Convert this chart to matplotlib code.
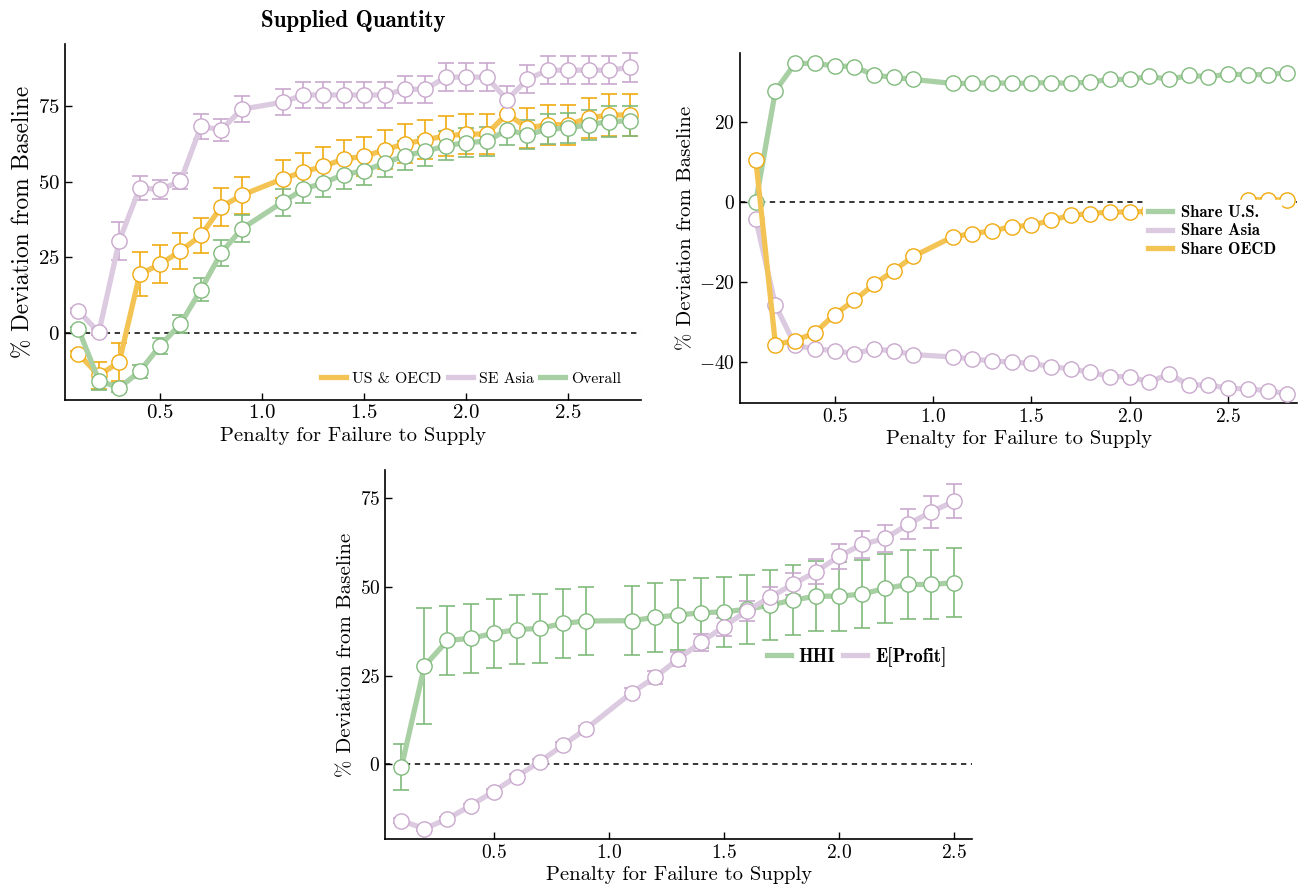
import matplotlib
matplotlib.use("Agg")
import matplotlib.pyplot as plt
import numpy as np

plt.rcParams['font.family'] = ['cmr10', 'DejaVu Serif']
plt.rcParams['mathtext.fontset'] = 'cm'
plt.rcParams['axes.formatter.use_mathtext'] = True
plt.rcParams['axes.unicode_minus'] = True

# ---------------- data ----------------
x_top = [0.1, 0.2, 0.3, 0.4, 0.5, 0.6, 0.7, 0.8, 0.9,
         1.1, 1.2, 1.3, 1.4, 1.5, 1.6, 1.7, 1.8, 1.9, 2.0,
         2.1, 2.2, 2.3, 2.4, 2.5, 2.6, 2.7, 2.8]

# Panel 1: Supplied Quantity
us_oecd = [-6.9, -14.0, -9.6, 19.4, 22.7, 27.1, 32.2, 41.7, 45.5,
           50.9, 53.2, 55.0, 57.5, 58.3, 60.5, 62.5, 63.8, 65.1, 65.7,
           65.7, 72.4, 67.7, 68.8, 68.8, 71.0, 72.0, 72.0]
us_oecd_err = [1.0, 4.4, 6.4, 7.2, 6.3, 6.0, 5.8, 6.3, 6.1,
               6.2, 6.2, 6.3, 6.3, 6.3, 6.4, 6.4, 6.4, 6.5, 6.5,
               6.5, 6.6, 6.6, 6.6, 6.6, 6.7, 6.8, 6.9]
se_asia = [7.3, 0.2, 30.4, 47.9, 47.4, 50.1, 68.2, 67.1, 73.9,
           76.2, 78.6, 78.6, 78.6, 78.6, 78.6, 80.5, 80.5, 84.5, 84.5,
           84.5, 77.0, 83.8, 86.8, 86.8, 86.8, 86.8, 87.7]
se_asia_err = [0.8, 1.0, 6.4, 4.1, 3.0, 2.7, 4.2, 3.7, 4.3,
               4.3, 4.2, 4.3, 4.3, 4.4, 4.4, 4.4, 4.5, 4.5, 4.5,
               4.5, 4.5, 4.6, 4.6, 4.6, 4.7, 4.7, 4.8]
overall = [1.3, -15.7, -18.1, -12.7, -4.2, 3.0, 14.3, 26.5, 34.4,
           43.2, 47.4, 49.6, 52.3, 53.6, 56.1, 58.6, 60.0, 61.8, 62.9,
           63.3, 67.1, 65.5, 67.3, 67.7, 68.8, 69.8, 70.1]
overall_err = [0.8, 3.2, 1.5, 2.0, 2.7, 3.1, 3.8, 4.3, 4.5,
               4.5, 4.6, 4.6, 4.6, 4.7, 4.7, 4.7, 4.8, 4.8, 4.8,
               4.8, 4.9, 4.9, 4.9, 4.9, 5.0, 5.0, 5.0]

# Panel 2: Shares
share_us = [0.0, 27.8, 34.6, 34.6, 34.0, 33.8, 31.7, 31.1, 30.6,
            29.6, 29.6, 29.8, 29.6, 29.7, 29.8, 29.6, 30.0, 30.6, 30.6,
            31.4, 30.6, 31.6, 31.3, 31.9, 31.8, 31.8, 32.3]
share_asia = [-4.3, -25.8, -35.8, -36.7, -37.1, -37.9, -36.7, -37.2, -38.1,
              -38.7, -39.2, -39.7, -40.0, -40.3, -41.1, -41.7, -42.5, -43.6, -43.6,
              -45.0, -42.9, -45.7, -45.7, -46.5, -46.7, -47.1, -47.9]
share_oecd = [10.6, -35.6, -34.6, -32.7, -28.1, -24.6, -20.6, -17.2, -13.6,
              -8.7, -7.9, -7.2, -6.2, -5.8, -4.6, -3.3, -2.9, -2.5, -2.5,
              -2.3, -2.4, -2.1, -2.2, -2.0, 0.6, 0.6, 0.5]

# Panel 3: HHI and expected profit
x_bot = [0.1, 0.2, 0.3, 0.4, 0.5, 0.6, 0.7, 0.8, 0.9,
         1.1, 1.2, 1.3, 1.4, 1.5, 1.6, 1.7, 1.8, 1.9, 2.0,
         2.1, 2.2, 2.3, 2.4, 2.5]
hhi = [-0.85, 27.7, 34.9, 35.5, 36.9, 38.0, 38.3, 39.7, 40.4,
       40.5, 41.4, 42.1, 42.7, 43.0, 43.7, 44.9, 46.3, 47.4, 47.4,
       48.0, 49.6, 50.7, 50.7, 51.2]
hhi_err = [6.5, 16.4, 9.6, 9.8, 9.8, 9.8, 9.7, 9.7, 9.7,
           9.7, 9.7, 9.8, 9.8, 9.8, 9.8, 9.8, 9.8, 9.8, 9.7,
           9.7, 9.7, 9.7, 9.7, 9.7]
profit = [-15.9, -18.2, -15.4, -11.7, -7.7, -3.5, 0.7, 5.3, 9.9,
          20.2, 24.5, 29.6, 34.4, 38.8, 43.3, 47.1, 50.8, 54.3, 58.7,
          62.0, 63.7, 67.7, 71.2, 74.2]
profit_err = [0.6, 0.6, 0.6, 0.6, 0.7, 0.7, 0.8, 0.9, 1.0,
              1.2, 1.8, 2.0, 2.4, 2.5, 2.8, 3.0, 3.2, 3.5, 3.5,
              3.9, 3.9, 4.3, 4.5, 4.8]

xticks = [0.5, 1.0, 1.5, 2.0, 2.5]

# ---------------- style ----------------
ORANGE_L, ORANGE_D = '#f3c453', '#f0aa10'
PURPLE_L, PURPLE_D = '#dccbe0', '#c9a8cd'
GREEN_L, GREEN_D = '#a9d0a4', '#80ba7c'

LW = 3.8
MS = 11
MEW = 1.0

fig = plt.figure(figsize=(13.07, 8.94), dpi=100)
ax1 = fig.add_axes([0.0497, 0.5530, 0.4410, 0.3980])
ax2 = fig.add_axes([0.5662, 0.5492, 0.4262, 0.3915])
ax3 = fig.add_axes([0.2946, 0.0615, 0.4491, 0.4128])


def series(ax, x, y, err, lc, dc, label):
    if err is not None:
        ax.errorbar(x, y, yerr=err, fmt='none', ecolor=dc, elinewidth=1.2,
                    capsize=6, capthick=1.2, zorder=2)
    ax.plot(x, y, '-', color=lc, lw=LW, marker='o', ms=MS, mfc='white',
            mec=dc, mew=MEW, label=label, zorder=3)


def style(ax, tick_fs, xl_fs, yl_fs):
    ax.spines['top'].set_visible(False)
    ax.spines['right'].set_visible(False)
    for s in ('left', 'bottom'):
        ax.spines[s].set_linewidth(1.2)
    ax.tick_params(direction='in', length=5, width=1.0, labelsize=tick_fs)
    ax.set_xticks(xticks)
    ax.axhline(0, color='black', ls='--', lw=1.1, dashes=(3.5, 3), zorder=1)
    ax.set_xlabel('Penalty for Failure to Supply', fontsize=xl_fs, labelpad=3)
    ax.set_ylabel('% Deviation from Baseline', fontsize=yl_fs, labelpad=3)


# Panel 1
series(ax1, x_top, us_oecd, us_oecd_err, ORANGE_L, ORANGE_D, 'US & OECD')
series(ax1, x_top, se_asia, se_asia_err, PURPLE_L, PURPLE_D, 'SE Asia')
series(ax1, x_top, overall, overall_err, GREEN_L, GREEN_D, 'Overall')
style(ax1, 15, 14.8, 16.8)
ax1.set_xlim(0.034, 2.858)
ax1.set_ylim(-22, 95.5)
ax1.set_yticks([0, 25, 50, 75])
ax1.set_title('Supplied Quantity', fontsize=16.5, fontfamily='cmb10', pad=12)
leg1 = ax1.legend(loc='center right', bbox_to_anchor=(0.99, 0.058), ncol=3,
                  frameon=False, fontsize=11.3, handlelength=1.6,
                  columnspacing=0.4, handletextpad=0.4)
for h in leg1.get_lines():
    h.set_marker('')

# Panel 2
series(ax2, x_top, share_us, None, GREEN_L, GREEN_D, 'Share U.S.')
series(ax2, x_top, share_asia, None, PURPLE_L, PURPLE_D, 'Share Asia')
series(ax2, x_top, share_oecd, None, ORANGE_L, ORANGE_D, 'Share OECD')
style(ax2, 14, 14.8, 15)
ax2.set_xlim(0.020, 2.85)
ax2.set_ylim(-50.2, 37.2)
ax2.set_yticks([-40, -20, 0, 20])
leg2 = ax2.legend(loc='upper left', bbox_to_anchor=(0.7235, 0.58), ncol=1,
                  frameon=True, fancybox=False, framealpha=1.0, edgecolor='white',
                  facecolor='white', handlelength=1.45,
                  handletextpad=0.5, labelspacing=0.2, borderpad=0.3,
                  borderaxespad=0.0,
                  prop={'family': 'cmb10', 'size': 12})
leg2.set_zorder(5)
for h in leg2.get_lines():
    h.set_marker('')

# Panel 3
series(ax3, x_bot, hhi, hhi_err, GREEN_L, GREEN_D, 'HHI')
series(ax3, x_bot, profit, profit_err, PURPLE_L, PURPLE_D, 'E[Profit]')
style(ax3, 14, 14.8, 15)
ax3.set_xlim(0.029, 2.577)
ax3.set_ylim(-21.1, 83.0)
ax3.set_yticks([0, 25, 50, 75])
leg3 = ax3.legend(loc='center right', bbox_to_anchor=(0.985, 0.494), ncol=2,
                  frameon=False, handlelength=1.3, columnspacing=0.4,
                  handletextpad=0.4, prop={'family': 'cmb10', 'size': 13.5})
for h in leg3.get_lines():
    h.set_marker('')

fig.savefig('out.png', dpi=100)
